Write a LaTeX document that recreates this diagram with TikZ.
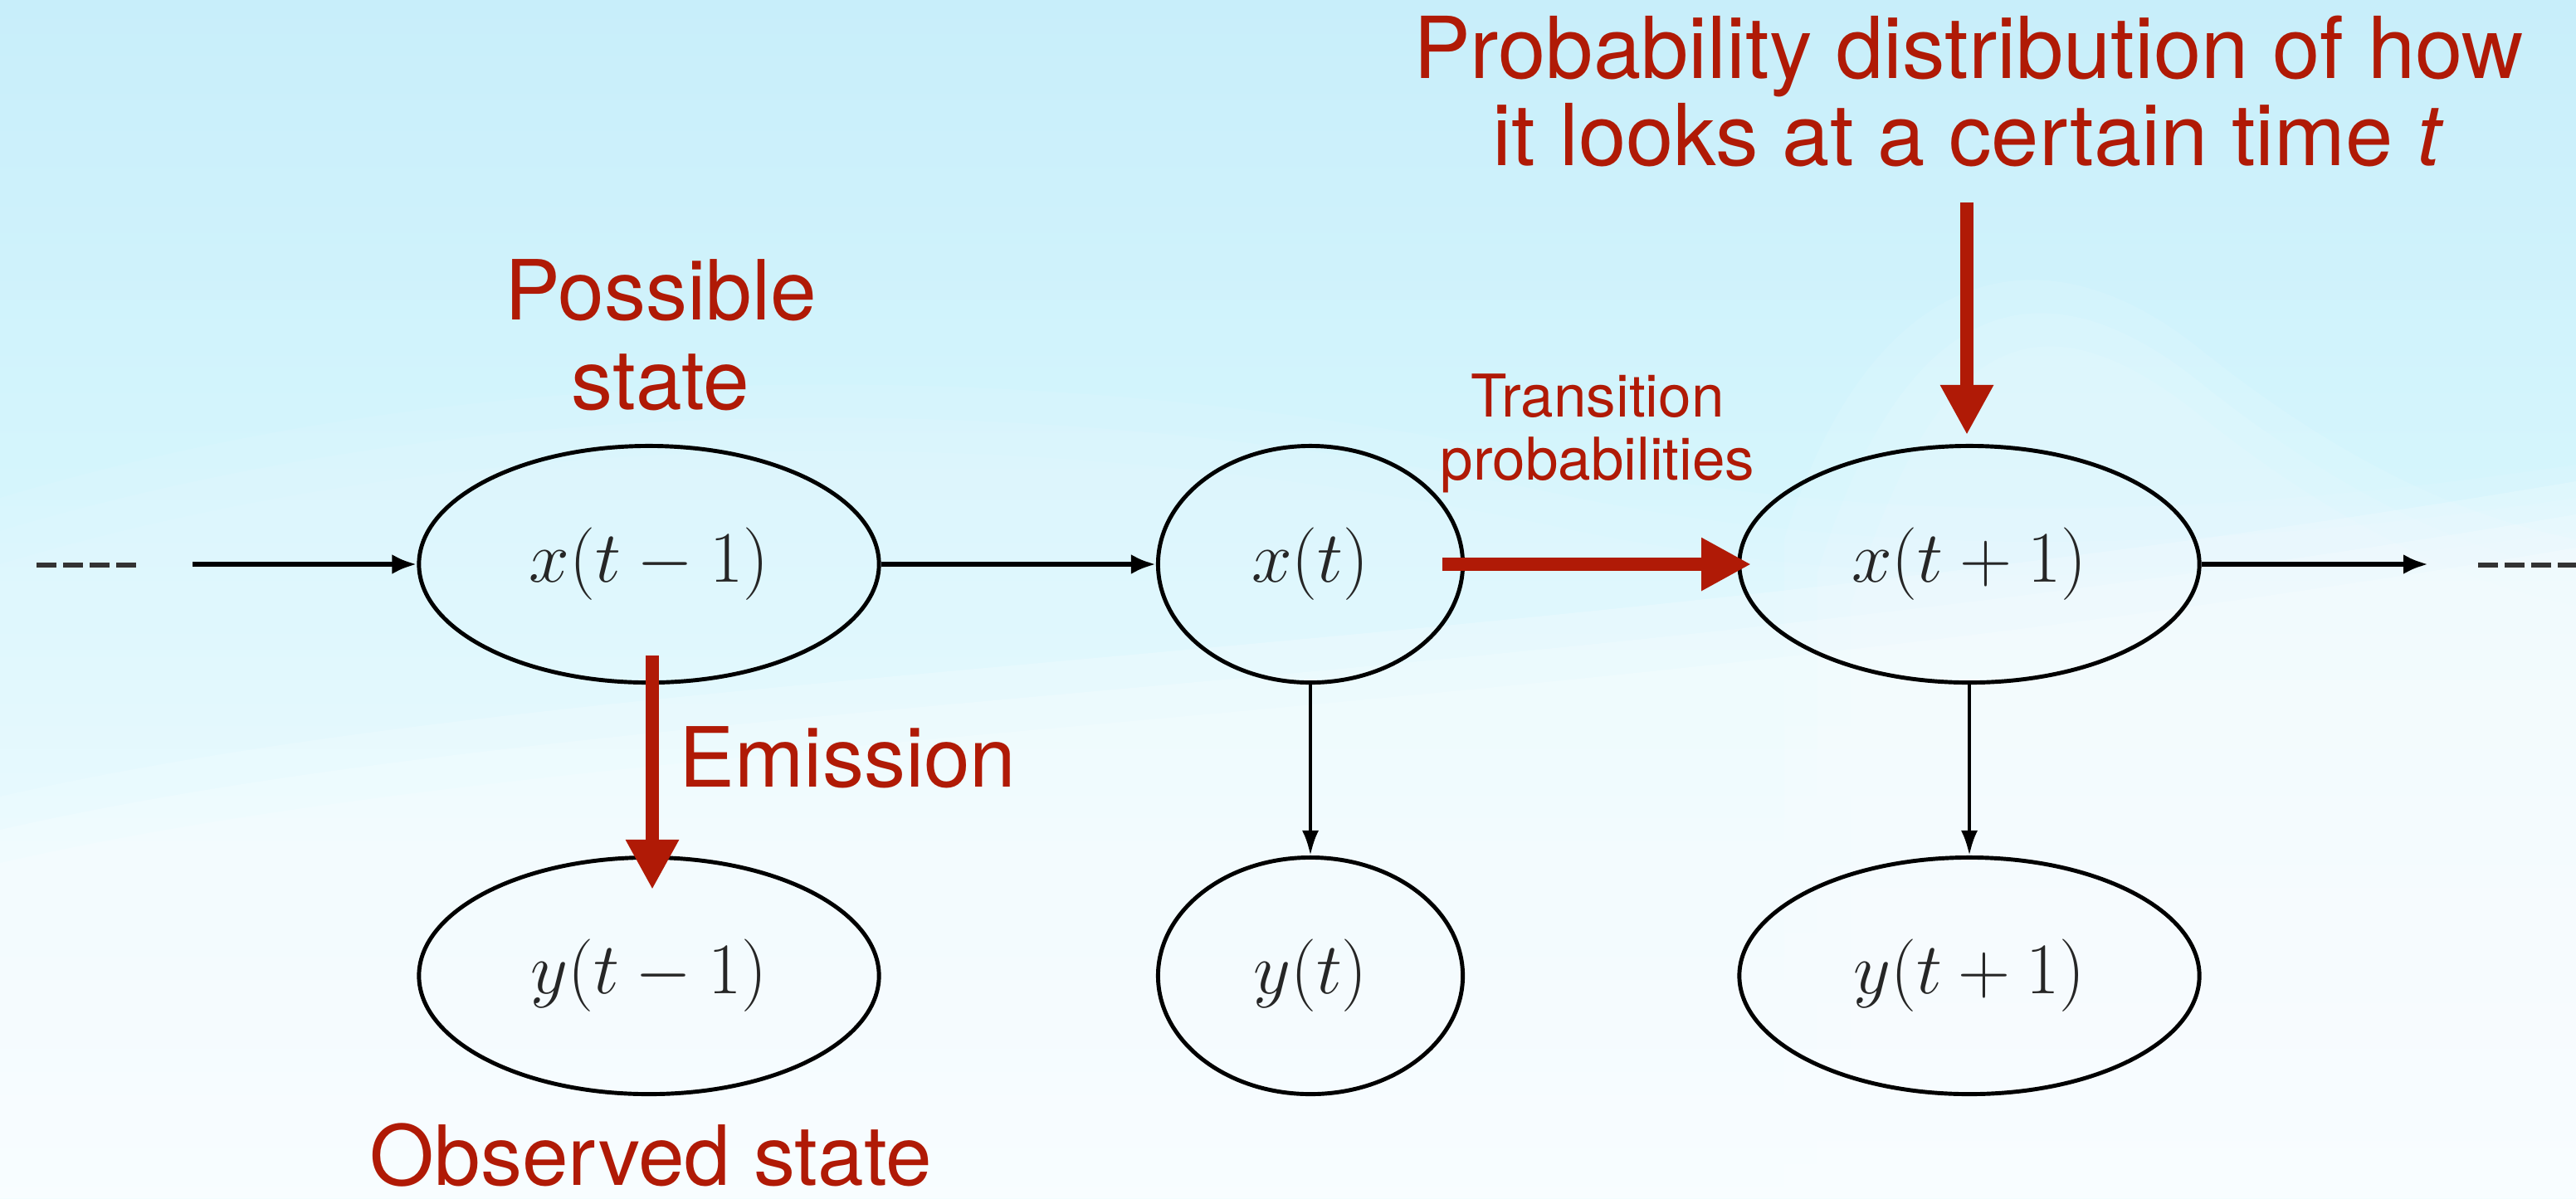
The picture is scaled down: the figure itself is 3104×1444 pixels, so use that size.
\documentclass[tikz,border=0pt]{standalone}
\usepackage{fontspec}
\setmainfont{TeX Gyre Heros}
\usetikzlibrary{shapes.geometric,arrows.meta}
\definecolor{hmmred}{RGB}{176,26,6}
\definecolor{bgtop}{RGB}{200,238,250}
\definecolor{bgmid}{RGB}{216,247,253}
\definecolor{bgbot}{RGB}{242,253,255}
\begin{document}
\begin{tikzpicture}[x=0.01cm,y=-0.01cm,
  state/.style={ellipse,draw=black,line width=1.4pt,inner sep=0pt,minimum height=2.85cm,
    font=\fontsize{30.2}{36}\selectfont,text=black!85},
  wide/.style={minimum width=5.54cm},
  narrow/.style={minimum width=3.67cm},
  blk/.style={line width=1.7pt,-{Latex[length=0.3cm,width=0.24cm]}},
  blkv/.style={line width=1.2pt,-{Latex[length=0.3cm,width=0.2cm]}},
  dots/.style={line width=1.8pt,black!80,dash pattern=on 0.24cm off 0.08cm},
  redarr/.style={draw=hmmred,line width=4.3pt,-{Triangle[length=0.6cm,width=0.6cm]}},
  big/.style={text=hmmred,font=\fontsize{28.45}{30.7}\selectfont,inner sep=0pt,anchor=base},
  top/.style={text=hmmred,font=\fontsize{29.3}{30.2}\selectfont,inner sep=0pt,anchor=base},
  small/.style={text=hmmred,font=\fontsize{20.2}{21.6}\selectfont,inner sep=0pt,anchor=base}
]
\useasboundingbox (0,0) rectangle (3104,1444);
% background
\begin{scope}
\clip (0,0) rectangle (3104,1444);
\shade[top color=bgtop,bottom color=bgbot,middle color=bgmid] (0,0) rectangle (3104,1444);
\foreach \d in {0,40,80} {
\fill[white,opacity=0.08] (0,600+\d) .. controls (600,420+\d) and (1300,430+\d) .. (1900,560+\d)
  .. controls (2300,640+\d) and (2700,620+\d) .. (3104,560+\d) -- (3104,1444) -- (0,1444) -- cycle;
\fill[white,opacity=0.1] (2150+\d,1444) -- (2150+\d,650+\d) .. controls (2250+\d,330+\d) and (2450,260+\d) .. (2650,420+\d)
  .. controls (2800,540+\d) and (2950,620+\d) .. (3104,650+\d) -- (3104,1444) -- cycle;
\fill[white,opacity=0.2] (0,960+\d) .. controls (700,800+\d) and (1800,800+\d) .. (3104,580+\d)
  -- (3104,1444) -- (0,1444) -- cycle;
}
\end{scope}

% state nodes
\node[state,wide]   (xa) at (782,680)  {$x(t-1)$};
\node[state,narrow] (xb) at (1579,680) {$x(t)$};
\node[state,wide]   (xc) at (2373,680) {$x(t+1)$};
\node[state,wide]   (ya) at (782,1176)  {$y(t-1)$};
\node[state,narrow] (yb) at (1579,1176) {$y(t)$};
\node[state,wide]   (yc) at (2373,1176) {$y(t+1)$};

% black connectors
\coordinate (lin) at (232,680);
\coordinate (rout) at (2926,680);
\coordinate (ldA) at (44,681);
\coordinate (ldB) at (164,681);
\coordinate (rdA) at (2986,681);
\coordinate (rdB) at (3110,681);
\draw[dots] (ldA) -- (ldB);
\draw[dots] (rdA) -- (rdB);
\draw[blk] (lin) -- (xa.west);
\draw[blk] (xa.east) -- (xb.west);
\draw[blk] (xc.east) -- (rout);
\draw[blkv] (xb.south) -- (yb.north);
\draw[blkv] (xc.south) -- (yc.north);

% red annotation arrows
\coordinate (emA) at (786,790);
\coordinate (emB) at (786,1072);
\coordinate (trA) at (1738,680);
\coordinate (trB) at (2110,680);
\coordinate (pdA) at (2370,244);
\coordinate (pdB) at (2370,524);
\draw[redarr] (emA) -- (emB);
\draw[redarr] (trA) -- (trB);
\draw[redarr] (pdA) -- (pdB);

% labels
\node[big] (pos1) at (796,385) {Possible};
\node[big] (pos2) at (796,493) {state};
\node[big,anchor=base west] (emis) at (818,948) {Emission};
\node[big,anchor=base west] (obs) at (445,1428) {Observed state};
\node[small] (tr1) at (1925,502) {Transition};
\node[small] (tr2) at (1925,578) {probabilities};
\node[top] (pd1) at (2372,94) {Probability distribution of how};
\node[top] (pd2) at (2372,199) {it looks at a certain time \textit{t}};
\end{tikzpicture}
\end{document}
